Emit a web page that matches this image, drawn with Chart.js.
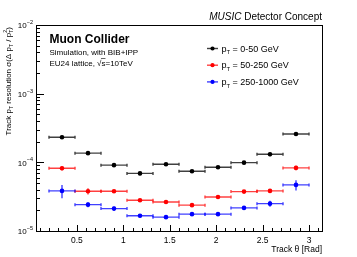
<!DOCTYPE html>
<html>
<head>
<meta charset="utf-8">
<script src="https://cdn.jsdelivr.net/npm/chart.js@4"></script>
<style>
  html, body { margin: 0; padding: 0; background: #fff; }
  #plot { display: block; }
</style>
</head>
<body>
<canvas id="plot" width="357" height="257" style="width:357px;height:257px"></canvas>
<script>
// bin centres in theta [rad], all bins 0.28 rad wide
const thetaCenters = [0.34, 0.62, 0.90, 1.18, 1.46, 1.74, 2.02, 2.30, 2.58, 2.86];
const thetaHalfWidth = 0.14;

// resolution sigma(dpT/pT^2), one array per pT slice
const resLow = [2.32e-4, 1.36e-4, 9.1e-5, 6.9e-5, 9.4e-5, 7.4e-5, 8.5e-5, 9.9e-5, 1.31e-4, 2.59e-4];
const resMid = [8.2e-5, 3.8e-5, 3.8e-5, 2.8e-5, 2.65e-5, 2.38e-5, 3.13e-5, 3.75e-5, 3.84e-5, 8.3e-5];
const resHigh = [3.84e-5, 2.42e-5, 2.12e-5, 1.67e-5, 1.59e-5, 1.76e-5, 1.76e-5, 2.17e-5, 2.5e-5, 4.69e-5];

const errLow = [1.4e-5, 8e-6, 5e-6, 4e-6, 5e-6, 4e-6, 4e-6, 6e-6, 8e-6, 1.8e-5];
const errMid = [6e-6, 4e-6, 2e-6, 1.5e-6, 1e-6, 1.5e-6, 1.5e-6, 2e-6, 2.5e-6, 6e-6];
const errHigh = [8.5e-6, 2e-6, 1.5e-6, 1e-6, 8e-7, 1e-6, 1e-6, 1e-6, 2.5e-6, 8e-6];

const seriesLabels = ["0-50 GeV", "50-250 GeV", "250-1000 GeV"];

const xTicks = [0.5, 1, 1.5, 2, 2.5, 3];
const xTickLabels = ["0.5", "1", "1.5", "2", "2.5", "3"];
const yDecades = [-5, -4, -3, -2];

const FONT = '"Liberation Sans", Arial, sans-serif';
const colors = ["#000000", "#ff0000", "#0000ff"];

function toPoints(ys) {
  return thetaCenters.map((x, i) => ({ x, y: ys[i] }));
}

const errs = [errLow, errMid, errHigh];

const errorBars = {
  id: "errorBars",
  beforeDatasetsDraw(chart) {
    const { ctx, scales: { x, y } } = chart;
    ctx.save();
    chart.data.datasets.forEach((ds, di) => {
      ctx.strokeStyle = colors[di];
      ctx.globalAlpha = 0.75;
      ctx.lineWidth = 1.4;
      ds.data.forEach((p, i) => {
        const px = x.getPixelForValue(p.x);
        const py = y.getPixelForValue(p.y);
        const x0 = x.getPixelForValue(p.x - thetaHalfWidth);
        const x1 = x.getPixelForValue(p.x + thetaHalfWidth);
        const e = errs[di][i];
        const y0 = y.getPixelForValue(p.y + e);
        const y1 = y.getPixelForValue(p.y - e);
        ctx.beginPath();
        ctx.moveTo(x0, py); ctx.lineTo(x1, py);
        ctx.moveTo(x0, py - 1.5); ctx.lineTo(x0, py + 1.5);
        ctx.moveTo(x1, py - 1.5); ctx.lineTo(x1, py + 1.5);
        ctx.moveTo(px, y0); ctx.lineTo(px, y1);
        ctx.stroke();
      });
    });
    ctx.restore();
  }
};

function drawPow(ctx, base, exp, right, cy) {
  ctx.font = "8px " + FONT;
  const wb = ctx.measureText(base).width;
  ctx.font = "5.5px " + FONT;
  const we = ctx.measureText(exp).width;
  ctx.textAlign = "left";
  ctx.textBaseline = "middle";
  ctx.font = "8px " + FONT;
  ctx.fillText(base, right - wb - we, cy + 1);
  ctx.font = "5.5px " + FONT;
  ctx.fillText(exp, right - we, cy - 2.5);
}

// p with subscript T, returns x after it
function drawPT(ctx, x0, y0, size, sup) {
  ctx.font = size + "px " + FONT;
  ctx.fillText("p", x0, y0);
  let x = x0 + ctx.measureText("p").width;
  ctx.font = (size * 0.65) + "px " + FONT;
  ctx.fillText("T", x, y0 + size * 0.3);
  let w = ctx.measureText("T").width;
  if (sup) {
    ctx.fillText(sup, x, y0 - size * 0.45);
    w = Math.max(w, ctx.measureText(sup).width);
  }
  return x + w;
}

const frame = {
  id: "frame",
  afterDraw(chart) {
    const { ctx, chartArea: a, scales: { x, y } } = chart;
    ctx.save();
    ctx.fillStyle = "#000";
    ctx.strokeStyle = "#000";
    ctx.lineWidth = 1;
    ctx.strokeRect(Math.round(a.left) + 0.5, Math.round(a.top) + 0.5,
      Math.round(a.right - a.left), Math.round(a.bottom - a.top));

    // x ticks
    ctx.beginPath();
    for (let v = 0.1; v < 3.14; v += 0.1) {
      const px = Math.round(x.getPixelForValue(v)) + 0.5;
      const major = Math.abs(v * 2 - Math.round(v * 2)) < 1e-6;
      ctx.moveTo(px, a.bottom);
      ctx.lineTo(px, a.bottom - (major ? 6 : 3));
    }
    // y ticks
    yDecades.forEach(d => {
      const py = Math.round(y.getPixelForValue(Math.pow(10, d))) + 0.5;
      ctx.moveTo(a.left, py); ctx.lineTo(a.left + 8, py);
      if (d < -2) {
        for (let m = 2; m <= 9; m++) {
          const pm = Math.round(y.getPixelForValue(m * Math.pow(10, d))) + 0.5;
          ctx.moveTo(a.left, pm); ctx.lineTo(a.left + 4, pm);
        }
      }
    });
    ctx.stroke();

    // tick labels
    ctx.font = "8.5px " + FONT;
    ctx.textAlign = "center";
    ctx.textBaseline = "top";
    xTicks.forEach((v, i) => ctx.fillText(xTickLabels[i], x.getPixelForValue(v), a.bottom + 5));
    yDecades.forEach(d => drawPow(ctx, "10", "\u2212" + Math.abs(d), a.left - 3, y.getPixelForValue(Math.pow(10, d))));

    // axis titles
    ctx.font = "8.5px " + FONT;
    ctx.textAlign = "right";
    ctx.textBaseline = "alphabetic";
    ctx.fillText("Track \u03b8 [Rad]", a.right, 252);

    ctx.save();
    ctx.translate(11, 27);
    ctx.rotate(-Math.PI / 2);
    ctx.textAlign = "left";
    const parts = [];
    // measure total width to right-align at top
    ctx.font = "8px " + FONT;
    const s1 = "Track ", s2 = " resolution \u03c3(\u0394 ", s3 = " / ", s4 = ")";
    const wp = ctx.measureText("p").width;
    ctx.font = "5.2px " + FONT;
    const wt = ctx.measureText("T").width;
    ctx.font = "8px " + FONT;
    const total = ctx.measureText(s1 + s2 + s3 + s4).width + 3 * (wp + wt);
    let cx = -total;
    ctx.fillText(s1, cx, 0); cx += ctx.measureText(s1).width;
    cx = drawPT(ctx, cx, 0, 8);
    ctx.font = "8px " + FONT;
    ctx.fillText(s2, cx, 0); cx += ctx.measureText(s2).width;
    cx = drawPT(ctx, cx, 0, 8);
    ctx.font = "8px " + FONT;
    ctx.fillText(s3, cx, 0); cx += ctx.measureText(s3).width;
    cx = drawPT(ctx, cx, 0, 8, "2");
    ctx.font = "8px " + FONT;
    ctx.fillText(s4, cx, 0);
    ctx.restore();

    // header texts
    ctx.textAlign = "left";
    ctx.font = "italic 10px " + FONT;
    const wMusic = ctx.measureText("MUSIC").width;
    ctx.font = "10px " + FONT;
    const wRest = ctx.measureText(" Detector Concept").width;
    const hx = a.right - wMusic - wRest;
    ctx.font = "italic 10px " + FONT;
    ctx.fillText("MUSIC", hx, 19.5);
    ctx.font = "10px " + FONT;
    ctx.fillText(" Detector Concept", hx + wMusic, 19.5);

    ctx.font = "bold 12px " + FONT;
    ctx.fillText("Muon Collider", 49.5, 43);
    ctx.font = "8px " + FONT;
    ctx.fillText("Simulation, with BIB+IPP", 49.5, 55);
    const l1 = "EU24 lattice, ";
    ctx.fillText(l1, 49.5, 65.5);
    let sx = 49.5 + ctx.measureText(l1).width;
    ctx.fillText("\u221a", sx, 65.5);
    sx += ctx.measureText("\u221a").width;
    ctx.fillText("s", sx, 65.5);
    const ws = ctx.measureText("s").width;
    ctx.beginPath();
    ctx.lineWidth = 0.6;
    ctx.moveTo(sx - 0.5, 58.5); ctx.lineTo(sx + ws, 58.5);
    ctx.stroke();
    ctx.fillText("=10TeV", sx + ws, 65.5);

    // legend
    seriesLabels.forEach((lab, i) => {
      const ly = 48.5 + i * 16.7;
      ctx.strokeStyle = colors[i];
      ctx.fillStyle = colors[i];
      ctx.globalAlpha = 0.75;
      ctx.lineWidth = 1.4;
      ctx.beginPath();
      ctx.moveTo(207, ly); ctx.lineTo(218, ly);
      ctx.stroke();
      ctx.globalAlpha = 1;
      ctx.beginPath();
      ctx.arc(212.5, ly, 2.1, 0, Math.PI * 2);
      ctx.fill();
      ctx.fillStyle = "#000";
      const base = ly + 3;
      let tx = drawPT(ctx, 221.5, base, 9);
      ctx.font = "9px " + FONT;
      ctx.fillText(" = " + lab, tx, base);
    });
    ctx.restore();
  }
};

new Chart(document.getElementById("plot"), {
  type: "scatter",
  data: {
    datasets: [resLow, resMid, resHigh].map((ys, i) => ({
      label: seriesLabels[i],
      data: toPoints(ys),
      backgroundColor: colors[i],
      borderColor: colors[i],
      pointRadius: 2.3,
      pointBorderWidth: 0,
      showLine: false
    }))
  },
  options: {
    responsive: false,
    devicePixelRatio: 1,
    animation: false,
    layout: { padding: { left: 36, top: 25, right: 35, bottom: 26 } },
    plugins: { legend: { display: false }, tooltip: { enabled: false } },
    scales: {
      x: { type: "linear", min: 0.06, max: 3.14, display: false },
      y: { type: "logarithmic", min: 1e-5, max: 1e-2, display: false }
    }
  },
  plugins: [errorBars, frame]
});
</script>
</body>
</html>
